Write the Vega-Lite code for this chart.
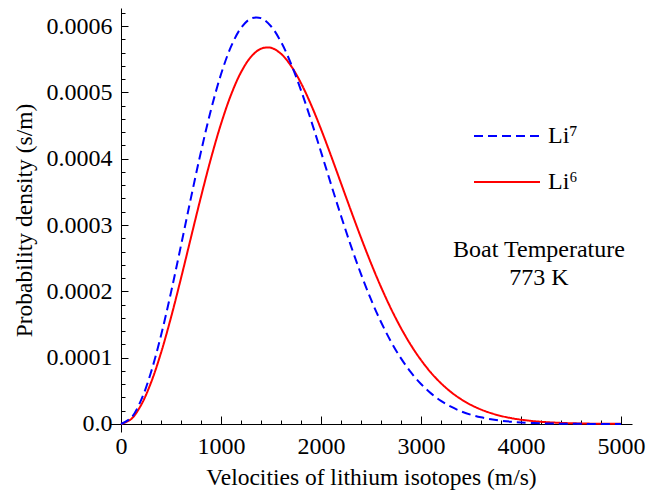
{
  "$schema": "https://vega.github.io/schema/vega-lite/v6.json",
  "width": 522,
  "height": 424,
  "autosize": {"type": "none"},
  "padding": {"left": 110, "top": 8, "right": 15, "bottom": 62},
  "background": "white",
  "config": {
    "view": {"stroke": null},
    "font": "Liberation Serif",
    "axis": {
      "grid": false,
      "domainColor": "black",
      "domainWidth": 1,
      "tickColor": "black",
      "tickWidth": 1,
      "labelColor": "black",
      "titleColor": "black",
      "labelFont": "Liberation Serif",
      "titleFont": "Liberation Serif",
      "labelFontSize": 24,
      "titleFontSize": 23.5,
      "titleFontWeight": "normal",
      "labelFlush": false,
      "labelOverlap": false
    },
    "legend": {
      "title": null,
      "orient": "none",
      "legendX": 363,
      "legendY": 94,
      "padding": 0,
      "symbolType": "stroke",
      "symbolSize": 4356,
      "symbolStrokeWidth": 2,
      "labelFont": "Liberation Serif",
      "labelFontSize": 24,
      "labelColor": "black",
      "labelOffset": 7
    }
  },
  "datasets": {
    "curves": [
      {"v": 0, "iso": "Li6", "p": 0},
      {"v": 100, "iso": "Li6", "p": 7.19e-6},
      {"v": 200, "iso": "Li6", "p": 2.836e-5},
      {"v": 300, "iso": "Li6", "p": 6.233e-5},
      {"v": 400, "iso": "Li6", "p": 1.0724e-4},
      {"v": 500, "iso": "Li6", "p": 1.6065e-4},
      {"v": 600, "iso": "Li6", "p": 2.1973e-4},
      {"v": 700, "iso": "Li6", "p": 2.8142e-4},
      {"v": 800, "iso": "Li6", "p": 3.4266e-4},
      {"v": 900, "iso": "Li6", "p": 4.0053e-4},
      {"v": 1000, "iso": "Li6", "p": 4.5239e-4},
      {"v": 1100, "iso": "Li6", "p": 4.9617e-4},
      {"v": 1200, "iso": "Li6", "p": 5.3025e-4},
      {"v": 1300, "iso": "Li6", "p": 5.5360e-4},
      {"v": 1400, "iso": "Li6", "p": 5.6584e-4},
      {"v": 1500, "iso": "Li6", "p": 5.6715e-4},
      {"v": 1600, "iso": "Li6", "p": 5.5817e-4},
      {"v": 1700, "iso": "Li6", "p": 5.3998e-4},
      {"v": 1800, "iso": "Li6", "p": 5.1394e-4},
      {"v": 1900, "iso": "Li6", "p": 4.8155e-4},
      {"v": 2000, "iso": "Li6", "p": 4.4455e-4},
      {"v": 2100, "iso": "Li6", "p": 4.0452e-4},
      {"v": 2200, "iso": "Li6", "p": 3.6300e-4},
      {"v": 2300, "iso": "Li6", "p": 3.2144e-4},
      {"v": 2400, "iso": "Li6", "p": 2.8093e-4},
      {"v": 2500, "iso": "Li6", "p": 2.4239e-4},
      {"v": 2600, "iso": "Li6", "p": 2.0655e-4},
      {"v": 2700, "iso": "Li6", "p": 1.7382e-4},
      {"v": 2800, "iso": "Li6", "p": 1.4452e-4},
      {"v": 2900, "iso": "Li6", "p": 1.1868e-4},
      {"v": 3000, "iso": "Li6", "p": 9.641e-5},
      {"v": 3100, "iso": "Li6", "p": 7.734e-5},
      {"v": 3200, "iso": "Li6", "p": 6.140e-5},
      {"v": 3300, "iso": "Li6", "p": 4.817e-5},
      {"v": 3400, "iso": "Li6", "p": 3.738e-5},
      {"v": 3500, "iso": "Li6", "p": 2.867e-5},
      {"v": 3600, "iso": "Li6", "p": 2.177e-5},
      {"v": 3700, "iso": "Li6", "p": 1.634e-5},
      {"v": 3800, "iso": "Li6", "p": 1.212e-5},
      {"v": 3900, "iso": "Li6", "p": 8.91e-6},
      {"v": 4000, "iso": "Li6", "p": 6.47e-6},
      {"v": 4200, "iso": "Li6", "p": 3.31e-6},
      {"v": 4400, "iso": "Li6", "p": 1.63e-6},
      {"v": 4600, "iso": "Li6", "p": 7.7e-7},
      {"v": 4800, "iso": "Li6", "p": 3.5e-7},
      {"v": 5000, "iso": "Li6", "p": 1.5e-7},
      {"v": 0, "iso": "Li7", "p": 0},
      {"v": 100, "iso": "Li7", "p": 9.05e-6},
      {"v": 200, "iso": "Li7", "p": 3.561e-5},
      {"v": 300, "iso": "Li7", "p": 7.797e-5},
      {"v": 400, "iso": "Li7", "p": 1.3342e-4},
      {"v": 500, "iso": "Li7", "p": 1.9847e-4},
      {"v": 600, "iso": "Li7", "p": 2.6915e-4},
      {"v": 700, "iso": "Li7", "p": 3.4125e-4},
      {"v": 800, "iso": "Li7", "p": 4.1067e-4},
      {"v": 900, "iso": "Li7", "p": 4.7369e-4},
      {"v": 1000, "iso": "Li7", "p": 5.2720e-4},
      {"v": 1100, "iso": "Li7", "p": 5.6884e-4},
      {"v": 1200, "iso": "Li7", "p": 5.9711e-4},
      {"v": 1300, "iso": "Li7", "p": 6.1138e-4},
      {"v": 1400, "iso": "Li7", "p": 6.1191e-4},
      {"v": 1500, "iso": "Li7", "p": 5.9963e-4},
      {"v": 1600, "iso": "Li7", "p": 5.7607e-4},
      {"v": 1700, "iso": "Li7", "p": 5.4317e-4},
      {"v": 1800, "iso": "Li7", "p": 5.0308e-4},
      {"v": 1900, "iso": "Li7", "p": 4.5804e-4},
      {"v": 2000, "iso": "Li7", "p": 4.1024e-4},
      {"v": 2100, "iso": "Li7", "p": 3.6156e-4},
      {"v": 2200, "iso": "Li7", "p": 3.1379e-4},
      {"v": 2300, "iso": "Li7", "p": 2.6826e-4},
      {"v": 2400, "iso": "Li7", "p": 2.2605e-4},
      {"v": 2500, "iso": "Li7", "p": 1.8773e-4},
      {"v": 2600, "iso": "Li7", "p": 1.5372e-4},
      {"v": 2700, "iso": "Li7", "p": 1.2409e-4},
      {"v": 2800, "iso": "Li7", "p": 9.885e-5},
      {"v": 2900, "iso": "Li7", "p": 7.769e-5},
      {"v": 3000, "iso": "Li7", "p": 6.026e-5},
      {"v": 3100, "iso": "Li7", "p": 4.613e-5},
      {"v": 3200, "iso": "Li7", "p": 3.485e-5},
      {"v": 3300, "iso": "Li7", "p": 2.599e-5},
      {"v": 3400, "iso": "Li7", "p": 1.914e-5},
      {"v": 3500, "iso": "Li7", "p": 1.391e-5},
      {"v": 3600, "iso": "Li7", "p": 1.000e-5},
      {"v": 3700, "iso": "Li7", "p": 7.09e-6},
      {"v": 3800, "iso": "Li7", "p": 4.97e-6},
      {"v": 3900, "iso": "Li7", "p": 3.43e-6},
      {"v": 4000, "iso": "Li7", "p": 2.35e-6},
      {"v": 4200, "iso": "Li7", "p": 1.06e-6},
      {"v": 4400, "iso": "Li7", "p": 4.5e-7},
      {"v": 4600, "iso": "Li7", "p": 1.8e-7},
      {"v": 4800, "iso": "Li7", "p": 7e-8},
      {"v": 5000, "iso": "Li7", "p": 3e-8}
    ],
    "notes": [
      {"x": 4180, "y": 0.0002518, "t": "Boat Temperature"},
      {"x": 4180, "y": 0.0002096, "t": "773 K"}
    ]
  },
  "layer": [
    {
      "data": {"name": "curves"},
      "transform": [{"filter": "datum.iso === 'Li6'"}],
      "mark": {"type": "line", "strokeWidth": 2, "interpolate": "catmull-rom"},
      "encoding": {
        "x": {
          "field": "v",
          "type": "quantitative",
          "scale": {"domain": [-110, 5110], "nice": false, "zero": false},
          "axis": {
            "orient": "bottom",
            "title": "Velocities of lithium isotopes (m/s)",
            "values": [0, 1000, 2000, 3000, 4000, 5000],
            "format": "d",
            "offset": -8,
            "ticks": false,
            "labelPadding": 10,
            "titlePadding": 7
          }
        },
        "y": {
          "field": "p",
          "type": "quantitative",
          "scale": {"domain": [-0.0000121, 0.0006272], "nice": false, "zero": false},
          "axis": {
            "orient": "left",
            "title": "Probability density (s/m)",
            "values": [0, 0.0001, 0.0002, 0.0003, 0.0004, 0.0005, 0.0006],
            "labelExpr": "datum.value === 0 ? '0.0' : format(datum.value, '.4f')",
            "offset": -11,
            "ticks": false,
            "labelPadding": 9,
            "titlePadding": 10
          }
        },
        "color": {"field": "iso", "type": "nominal", "scale": {"domain": ["Li7", "Li6"], "range": ["#0000ff", "#ff0000"]},
          "legend": {"rowPadding": -7, "labelExpr": "datum.label === 'Li7' ? 'Li⁷' : 'Li⁶'"}},
        "strokeDash": {"field": "iso", "type": "nominal", "scale": {"domain": ["Li7", "Li6"], "range": [[9, 5], [1, 0]]},
          "legend": {"rowPadding": -7, "labelExpr": "datum.label === 'Li7' ? 'Li⁷' : 'Li⁶'"}}
      }
    },
    {
      "data": {"name": "curves"},
      "transform": [{"filter": "datum.iso === 'Li7'"}],
      "mark": {"type": "line", "strokeWidth": 2, "interpolate": "catmull-rom"},
      "encoding": {
        "x": {
          "field": "v",
          "type": "quantitative",
          "scale": {"domain": [-110, 5110], "nice": false, "zero": false},
          "axis": {
            "orient": "top",
            "title": null,
            "values": [0, 1000, 2000, 3000, 4000, 5000],
            "labels": false,
            "domain": false,
            "offset": -416,
            "tickSize": 8
          }
        },
        "y": {
          "field": "p",
          "type": "quantitative",
          "scale": {"domain": [-0.0000121, 0.0006272], "nice": false, "zero": false},
          "axis": {
            "orient": "right",
            "title": null,
            "values": [0, 0.0001, 0.0002, 0.0003, 0.0004, 0.0005, 0.0006],
            "labels": false,
            "domain": false,
            "offset": -511,
            "tickSize": 7
          }
        },
        "color": {"field": "iso", "type": "nominal", "scale": {"domain": ["Li7", "Li6"], "range": ["#0000ff", "#ff0000"]},
          "legend": {"rowPadding": -7, "labelExpr": "datum.label === 'Li7' ? 'Li⁷' : 'Li⁶'"}},
        "strokeDash": {"field": "iso", "type": "nominal", "scale": {"domain": ["Li7", "Li6"], "range": [[9, 5], [1, 0]]},
          "legend": {"rowPadding": -7, "labelExpr": "datum.label === 'Li7' ? 'Li⁷' : 'Li⁶'"}}
      }
    },
    {
      "data": {"name": "notes"},
      "mark": {"type": "text", "font": "Liberation Serif", "fontSize": 24, "color": "black", "align": "center", "baseline": "alphabetic"},
      "encoding": {
        "x": {
          "field": "x",
          "type": "quantitative",
          "scale": {"domain": [-110, 5110], "nice": false, "zero": false},
          "axis": {
            "orient": "top",
            "title": null,
            "values": [200,400,600,800,1200,1400,1600,1800,2200,2400,2600,2800,3200,3400,3600,3800,4200,4400,4600,4800],
            "labels": false,
            "domain": false,
            "offset": -416,
            "tickSize": 4
          }
        },
        "y": {
          "field": "y",
          "type": "quantitative",
          "scale": {"domain": [-0.0000121, 0.0006272], "nice": false, "zero": false},
          "axis": {
            "orient": "right",
            "title": null,
            "values": [0.00002,0.00004,0.00006,0.00008,0.00012,0.00014,0.00016,0.00018,0.00022,0.00024,0.00026,0.00028,0.00032,0.00034,0.00036,0.00038,0.00042,0.00044,0.00046,0.00048,0.00052,0.00054,0.00056,0.00058,0.00062],
            "labels": false,
            "domain": false,
            "offset": -511,
            "tickSize": 4
          }
        },
        "text": {"field": "t", "type": "nominal"}
      }
    }
  ],
  "resolve": {"axis": {"x": "independent", "y": "independent"}}
}
